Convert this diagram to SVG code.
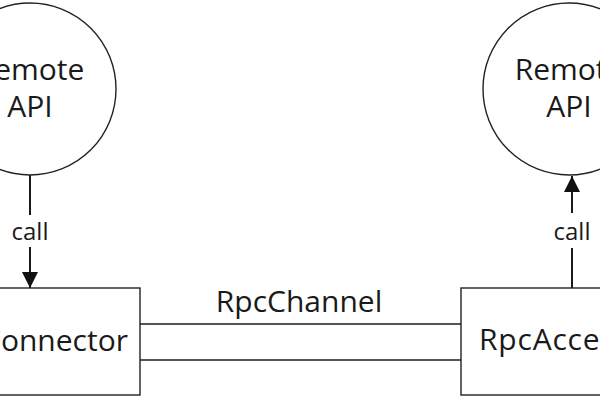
<svg xmlns="http://www.w3.org/2000/svg" width="600" height="400" viewBox="0 0 600 400">
<style>
  .node { fill: #ffffff; stroke: #222222; stroke-width: 1.4; }
  .label { font-family: "Open Sans", "Liberation Sans", sans-serif; font-size: 30px; fill: #1a1a1a; text-anchor: middle; }
  .small { font-family: "Open Sans", "Liberation Sans", sans-serif; font-size: 24px; fill: #1a1a1a; text-anchor: middle; }
  .conn { stroke: #1a1a1a; stroke-width: 2; fill: none; }
  .chan { stroke: #1a1a1a; stroke-width: 1.6; fill: none; }
</style>
<defs>
  <marker id="arrow" viewBox="0 0 10 10" refX="10" refY="5" markerUnits="userSpaceOnUse" markerWidth="17" markerHeight="16" orient="auto">
    <path d="M0,0 L10,5 L0,10 z" fill="#111111"/>
  </marker>
</defs>
<rect width="600" height="400" fill="#ffffff"/>

<g id="remote-api-left">
  <circle class="node" cx="30" cy="89" r="86"/>
  <text class="label" x="30" y="80">Remote</text>
  <text class="label" x="30" y="117">API</text>
</g>

<g id="remote-api-right">
  <circle class="node" cx="569" cy="89" r="86"/>
  <text class="label" x="569" y="80">Remote</text>
  <text class="label" x="569" y="117">API</text>
</g>

<g id="connector">
  <rect class="node" x="-80" y="288" width="220" height="107"/>
  <text class="label" x="128" y="351" style="text-anchor:end">Connector</text>
</g>

<g id="rpc-acceptor">
  <rect class="node" x="461" y="288" width="220" height="107"/>
  <text class="label" x="479" y="350" style="text-anchor:start" letter-spacing="0.8">RpcAcceptor</text>
</g>

<g id="connectors">
  <line class="conn" x1="30" y1="175" x2="30" y2="215"/>
  <line class="conn" x1="30" y1="247" x2="30" y2="288" marker-end="url(#arrow)"/>
  <text class="small" x="30" y="240">call</text>

  <line class="conn" x1="572" y1="288" x2="572" y2="248"/>
  <line class="conn" x1="572" y1="213" x2="572" y2="176" marker-end="url(#arrow)"/>
  <text class="small" x="572" y="240">call</text>

  <line class="chan" x1="140" y1="324" x2="461" y2="324"/>
  <line class="chan" x1="140" y1="360" x2="461" y2="360"/>
  <text class="label" x="299" y="312">RpcChannel</text>
</g>
</svg>
